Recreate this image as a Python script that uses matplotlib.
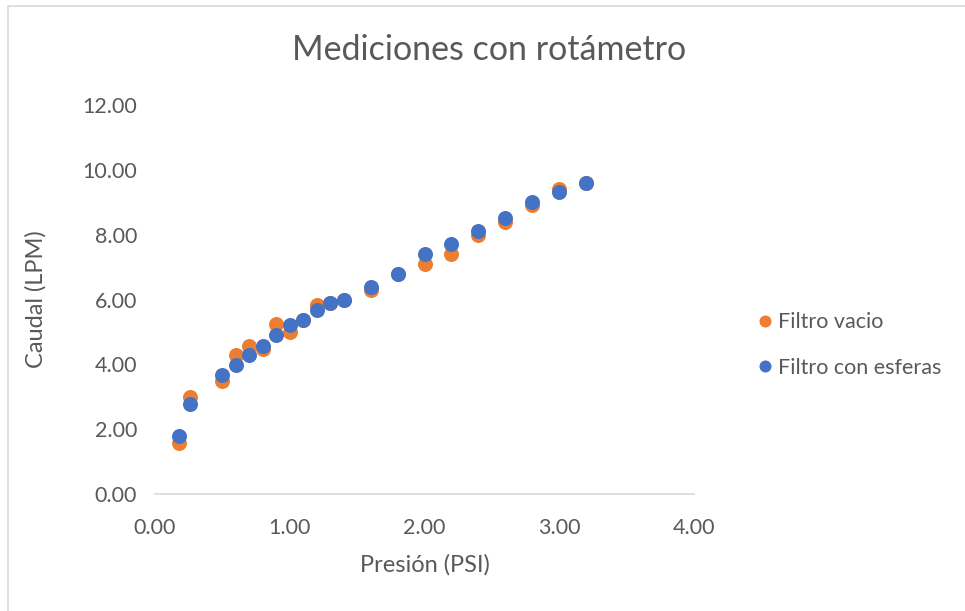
import matplotlib.pyplot as plt
from matplotlib.lines import Line2D

# data
presion_vacio = [0.18, 0.26, 0.5, 0.6, 0.7, 0.8, 0.9, 1.0, 1.1, 1.2, 1.3, 1.4,
                 1.6, 1.8, 2.0, 2.2, 2.4, 2.6, 2.8, 3.0, 3.2]
caudal_vacio = [1.58, 3.0, 3.48, 4.29, 4.58, 4.48, 5.25, 5.0, 5.38, 5.82, 5.9, 6.0,
                6.28, 6.8, 7.09, 7.4, 8.0, 8.4, 8.9, 9.41, 9.6]
presion_esferas = [0.18, 0.26, 0.5, 0.6, 0.7, 0.8, 0.9, 1.0, 1.1, 1.2, 1.3, 1.4,
                   1.6, 1.8, 2.0, 2.2, 2.4, 2.6, 2.8, 3.0, 3.2]
caudal_esferas = [1.78, 2.78, 3.68, 3.98, 4.3, 4.58, 4.9, 5.2, 5.38, 5.68, 5.9, 6.0,
                  6.38, 6.8, 7.4, 7.71, 8.1, 8.5, 9.0, 9.31, 9.6]
xticks = [0, 1, 2, 3, 4]
yticks = [0, 2, 4, 6, 8, 10, 12]

plt.rcParams['font.family'] = ['Lato', 'DejaVu Sans']
gris = '#595959'

fig = plt.figure(figsize=(9.65, 6.11), dpi=100)
ax = fig.add_axes([155/965, 1 - 494/611, (694-155)/965, (494-105)/611])

ax.plot(presion_vacio, caudal_vacio, 'o', color='#ED7D31', markersize=10.8,
        markeredgewidth=0, label='Filtro vacio')
ax.plot(presion_esferas, caudal_esferas, 'o', color='#4472C4', markersize=10.8,
        markeredgewidth=0, label='Filtro con esferas')

ax.set_xlim(0, 4)
ax.set_ylim(0, 12)
ax.set_xticks(xticks)
ax.set_yticks(yticks)
ax.set_xticklabels(['%.2f' % v for v in xticks])
ax.set_yticklabels(['%.2f' % v for v in yticks])
ax.tick_params(length=0, labelsize=15.5, labelcolor=gris)
ax.tick_params(axis='y', pad=13)
ax.tick_params(axis='x', pad=17)
for s in ['top', 'right', 'left']:
    ax.spines[s].set_visible(False)
ax.spines['bottom'].set_color('#D9D9D9')
ax.spines['bottom'].set_linewidth(1.2)

ax.set_xlabel('Presión (PSI)', fontsize=17, color=gris, labelpad=12)
ax.set_ylabel('Caudal (LPM)', fontsize=17, color=gris, labelpad=26)
fig.text(489/965, 1 - 50/611, 'Mediciones con rotámetro', fontsize=24.5,
         color=gris, ha='center', va='center')

ax.legend(loc='center left', bbox_to_anchor=(748/965, 1 - 345/611),
          bbox_transform=fig.transFigure, frameon=False, fontsize=15.5,
          labelcolor=gris, handlelength=0.8, handletextpad=0.2,
          borderaxespad=0, labelspacing=1.2, markerscale=0.8)

# chart border (only left and top edges are visible in the reference)
fig.add_artist(Line2D([8/965, 8/965, 1.0], [0.0, 1 - 6/611, 1 - 6/611],
                      transform=fig.transFigure, color='#D9D9D9', linewidth=1.2))

fig.savefig('out.png', dpi=100)
